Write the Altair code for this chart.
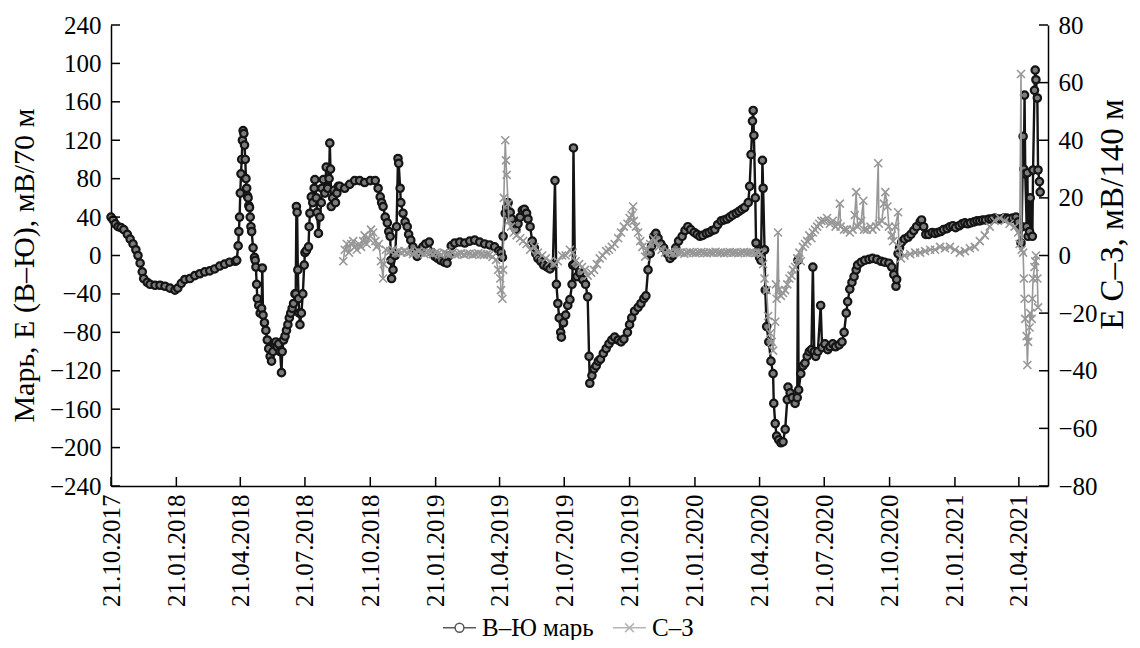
import altair as alt
import pandas as pd

START = "2017-10-21"
tick_labels = ["21.10.2017", "21.01.2018", "21.04.2018", "21.07.2018", "21.10.2018",
               "21.01.2019", "21.04.2019", "21.07.2019", "21.10.2019", "21.01.2020",
               "21.04.2020", "21.07.2020", "21.10.2020", "21.01.2021", "21.04.2021"]
left_ticks = [-240, -200, -160, -120, -80, -40, 0, 40, 80, 120, 160, 200, 240]
right_ticks = [-80, -60, -40, -20, 0, 20, 40, 60, 80]
series_names = ["В–Ю марь", "С–З"]

# В–Ю марь (left axis): days since 21.10.2017 and values, mV/70 m
ew_day = [0, 3, 6, 10, 14, 18, 23, 27, 31, 35, 38, 41, 44, 46, 51, 55, 62, 69, 76, 83,
          90, 94, 99, 104, 111, 118, 125, 132, 139, 146, 153, 160, 167, 175, 177,
          179, 180, 181, 182, 183, 184, 185, 186, 187, 188, 189, 190, 191, 192, 193, 194, 195,
          196, 197, 198, 200, 202, 203, 204, 205, 206, 208, 210, 212, 213, 214, 216, 218, 220,
          222, 224, 226, 228, 230, 232, 234, 236, 238, 240, 241, 243, 245, 247, 249, 251, 253,
          255, 257, 259, 260, 261, 262, 263, 264, 265, 266, 268, 270, 272, 273, 275, 278, 279,
          280, 282, 284, 286, 287, 289, 290, 292, 294, 296, 297, 299, 301, 303, 305, 307, 308,
          309, 310, 312, 314, 316, 318, 320, 322, 329, 336, 343, 350, 357, 365, 372, 376, 379,
          381, 383, 386, 389, 391, 393, 394, 395, 397, 400, 402, 404, 405, 407, 408, 411, 414,
          417, 419, 422, 425, 428, 431, 435, 439, 443, 448, 452, 456, 460, 464, 469, 473, 476,
          479, 484, 491, 498, 505, 512, 519, 526, 533, 540, 546, 549, 551, 552, 555, 557, 559,
          562, 564, 568, 570, 573, 576, 579, 582, 585, 587, 590, 593, 596, 598, 601, 605, 609,
          614, 618, 622, 625, 627, 629, 631, 633, 634, 637, 640, 643, 646, 649, 650, 651, 653,
          656, 660, 664, 668, 671, 673, 674, 677, 680, 683, 686, 689, 693, 697, 701, 705, 709,
          714, 718, 722, 727, 730, 733, 737, 742, 746, 750, 753, 756, 759, 761, 764, 767, 770,
          774, 778, 783, 787, 791, 795, 799, 804, 808, 812, 816, 821, 825, 829, 833, 838, 842,
          846, 850, 854, 859, 863, 867, 871, 875, 880, 884, 888, 892, 897, 899, 901, 903, 904,
          905, 907, 908, 911, 913, 915, 917, 918, 920, 921, 923, 926, 929, 932, 933, 935, 937,
          940, 943, 946, 949, 952, 953, 956, 959, 963, 966, 967, 968, 971, 974, 977, 980, 983,
          986, 988, 990, 992, 995, 999, 1001, 1005, 1009, 1012, 1016, 1020, 1025, 1029, 1032,
          1035, 1037, 1040, 1043, 1046, 1049, 1051, 1056, 1061, 1067, 1072, 1078, 1084, 1089,
          1095, 1099, 1102, 1105, 1106, 1108, 1110, 1113, 1117, 1122, 1126, 1130, 1134, 1139,
          1141, 1144, 1147, 1151, 1156, 1160, 1164, 1168, 1172, 1177, 1181, 1185, 1189, 1194,
          1198, 1202, 1206, 1210, 1215, 1219, 1223, 1227, 1231, 1236, 1240, 1244, 1248, 1253,
          1257, 1261, 1265, 1269, 1274, 1277, 1279, 1281, 1282, 1284, 1285, 1286, 1287, 1289,
          1290, 1291, 1293, 1294, 1297, 1298, 1300, 1301, 1302, 1304, 1305, 1307, 1308]
ew_val = [40, 37, 33, 30, 29, 27, 22, 17, 12, 6, 0, -8, -17, -24, -28, -30, -31, -31, -32, -34,
          -36, -34, -29, -25, -24, -21, -19, -17, -16, -14, -11, -9, -7, -6, -5,
          10, 25, 40, 65, 85, 100, 120, 130, 127, 115, 100, 80, 70, 62, 60, 52, 50,
          40, 30, 25, 8, -2, -5, -12, -30, -45, -52, -60, -55, -13, -62, -70, -78, -88,
          -97, -105, -110, -100, -92, -90, -95, -92, -100, -122, -100, -88, -84, -78, -72, -65, -60,
          -55, -50, -40, -40, 51, 45, -15, -45, -60, -72, -60, -40, -10, 3, 5, 9, 30,
          44, 61, 55, 70, 79, 60, 45, 23, 40, 55, 70, 79, 65, 92, 70, 80, 117,
          90, 51, 60, 68, 55, 65, 72, 72, 70, 74, 78, 78, 76, 78, 78, 70, 61,
          55, 51, 40, 34, 25, 20, -5, -24, -15, 0, 30, 101, 96, 70, 55, 44, 35,
          30, 22, 16, 9, 3, -1, 5, 9, 12, 14, 3, -1, -3, -5, -7, -8, 0,
          10, 13, 14, 13, 15, 16, 14, 12, 11, 9, 5, 3, -2, 20, 44, 50, 55,
          45, 38, 30, 27, 33, 40, 47, 48, 44, 38, 30, 15, 8, 2, -3, -6, -10,
          -12, -14, -10, 78, -30, -50, -65, -80, -85, -70, -62, -52, -46, -30, -10, 112, -10,
          -22, -18, -25, -30, -43, -105, -133, -125, -118, -115, -110, -108, -102, -97, -92, -88, -85,
          -88, -90, -87, -80, -72, -65, -58, -54, -50, -45, -42, -15, 2, 10, 20, 23, 18,
          12, 8, 2, -3, 0, 8, 15, 20, 26, 30, 27, 24, 22, 20, 21, 23, 24,
          26, 27, 32, 36, 37, 38, 40, 42, 44, 46, 48, 50, 55, 72, 105, 140, 151,
          125, 60, 13, 5, -2, -5, 99, 70, 6, -36, -74, -90, -110, -123, -154, -175, -188,
          -192, -195, -194, -181, -150, -137, -143, -148, -154, -148, -5, -140, -123, -115, -112, -105, -100,
          -98, -12, -100, -105, -100, -52, -96, -92, -98, -95, -92, -95, -93, -90, -80,
          -60, -48, -35, -28, -22, -15, -10, -7, -5, -4, -3, -4, -6, -7,
          -8, -12, -20, -32, -25, 2, 8, 14, 17, 19, 22, 26, 30, 35,
          37, 30, 22, 22, 24, 23, 24, 25, 27, 28, 30, 31, 29, 31,
          33, 34, 33, 34, 35, 36, 36, 37, 37, 38, 38, 39, 38, 38,
          39, 39, 38, 39, 40, 35, 28, 13, 30, 124, 90, 167, 85, 30,
          86, 20, 25, 60, 20, 89, 172, 193, 183, 164, 89, 77, 66]

# С–З (right axis): days since 21.10.2017 and values, mV/140 m
nw_day = [327, 329, 332, 335, 338, 341, 343, 346, 349, 352, 355, 357, 360, 363, 366, 369, 372,
          374, 377, 380, 383, 384, 387, 393, 397, 401, 405, 409, 413, 417, 421, 425, 429, 433,
          437, 441, 445, 449, 453, 457, 461, 465, 469, 473, 477, 481, 485, 489, 493, 497, 501,
          505, 509, 513, 517, 521, 525, 529, 533, 537, 542, 545, 548, 549, 551, 552, 553, 555,
          556, 557, 559, 560, 563, 567, 571, 576, 580, 585, 590, 596, 601, 607, 612, 618, 624,
          629, 635, 640, 646, 650, 654, 659, 663, 667, 671, 676, 680, 684, 688, 692, 697, 701,
          705, 709, 714, 718, 722, 727, 730, 733, 735, 736, 739, 742, 745, 748, 752, 755, 759,
          763, 767, 771, 775, 780, 787, 791, 795, 799, 803, 807, 811, 815, 819, 823, 827, 831,
          835, 839, 843, 847, 851, 855, 859, 863, 867, 871, 875, 879, 883, 887, 891, 895, 899,
          903, 907, 911, 915, 918, 920, 923, 925, 928, 930, 932, 935, 936, 937, 939, 940, 943,
          946, 949, 952, 955, 958, 960, 963, 966, 969, 971, 974, 977, 980, 983, 986, 988, 991,
          994, 997, 1000, 1004, 1008, 1012, 1016, 1020, 1023, 1026, 1027, 1032, 1036, 1040, 1044,
          1047, 1049, 1051, 1056, 1059, 1060, 1064, 1069, 1072, 1077, 1080, 1081, 1085, 1088, 1090,
          1093, 1095, 1099, 1101, 1104, 1108, 1109, 1112, 1117, 1125, 1132, 1139, 1146, 1153, 1160,
          1167, 1174, 1181, 1188, 1195, 1202, 1209, 1216, 1223, 1230, 1237, 1244, 1251, 1258, 1265,
          1272, 1277, 1279, 1281, 1282, 1284, 1285, 1286, 1287, 1289, 1290, 1291, 1293, 1294, 1296,
          1297, 1298, 1300, 1301, 1302, 1304, 1305]
nw_val = [-2, 2, 4, 1, 4, 5, 3, 2, 4, 3, 5, 7, 4, 6, 9, 8, 5,
          3, 4, -2, -8, -3, 2, 1.5, 2, 1, 1.5, 1, 1.5, 1, 1.2, 0.5, 1, 1.5,
          1, 0.5, 1, 1, 0.5, 1, 0.8, 0.3, 1, 0.5, 0.5, 1, 0.3, 0.5, 0.8, 0.3, 0.6,
          0.6, 0.2, 0.5, 0.8, 0.5, 0.2, 0.4, 0.3, -0.5, -1.5, -5, -8, -12, -15, -5, 20, 40,
          33, 28, 18, 12, 10, 8, 7, 6, 5, 4, 2, 3, 1, 0, -1, -2, -3,
          -2, 0, 0, 2, 1, -2, -3, -4, -5, -7, -6, -5, -3, -1, 0, 1.5, 2,
          3, 4, 6, 8, 10, 11, 13, 14, 17, 12, 10, 8, 5, 3, -0.4, 2, 4,
          6, 5, 3, 2, 1, 1, 0.8, 1.2, 1, 1, 0.6, 1, 1.2, 1, 0.8, 1, 1.2,
          1, 0.8, 1, 1, 1.3, 1, 1, 0.8, 1, 1.2, 1, 1, 0.8, 1, 1.2, 1, 1,
          1, 0.8, 1, 0.5, -3, -8, -12, -21, -27, -30, -33, -23, -10, -15, 8, -12, -14,
          -13, -12, -10, -8, -7, -5, -4, -1, 1, -2, 3, 4, 5, 7, 6, 8, 9,
          10, 11, 12, 12, 13, 11, 12, 10, 11, 18, 10, 9, 9, 8, 9,
          14, 22, 10, 12, 19, 9, 9, 10, 9, 10, 32, 11, 12, 18, 22,
          17, 10, 7, 5, 10, 15, 3, -1, 0, 0.5, 1, 1, 1.5, 2, 2,
          3, 2.5, 3, 2, 1, 1.5, 2.5, 3, 5, 7, 10, 12, 13, 12, 11,
          10, 8, 4, 63, 2, 1, -8, -15, -22, -28, -38, -30, -25, -20, -22,
          -15, -8, -4, -2, 0, -8, -18]

FONT = "Liberation Serif"
W, H = 937, 461
BLACK = "#141414"
GRAY = "#979797"

start = pd.Timestamp(START)


def to_dates(days):
    return [(start + pd.Timedelta(days=d)).strftime("%Y-%m-%d") for d in days]


ew = pd.DataFrame({"date": to_dates(ew_day), "v": ew_val})
nw = pd.DataFrame({"date": to_dates(nw_day), "v": nw_val})
tick_dates = [pd.to_datetime(t, format="%d.%m.%Y") for t in tick_labels]
xt = pd.DataFrame({"date": [d.strftime("%Y-%m-%d") for d in tick_dates]})
lt = pd.DataFrame({"v": left_ticks})
rt = pd.DataFrame({"v": right_ticks})
leg = pd.DataFrame({"s": series_names})

xscale = alt.Scale(type="utc", domain=[alt.DateTime(year=2017, month=10, date=21, utc=True),
                                       alt.DateTime(year=2021, month=6, date=1, utc=True)])
xaxis = alt.Axis(values=[alt.DateTime(year=d.year, month=d.month, date=d.day, utc=True) for d in tick_dates],
                 format="%d.%m.%Y", labelAngle=270, labelPadding=8, tickSize=0,
                 labelFlush=False, labelOverlap=False, grid=False, title=None,
                 labelFont=FONT, labelFontSize=25, labelColor="black",
                 domainColor="black", domainWidth=1.5)

left_axis = alt.Axis(values=left_ticks, orient="left", tickSize=0, labelPadding=10, grid=False,
                     labelExpr="datum.value == 200 ? '100' : datum.label",
                     labelFont=FONT, labelFontSize=25, labelColor="black",
                     domainColor="black", domainWidth=1.5,
                     title="Марь, E (В–Ю), мВ/70 м", titleFont=FONT, titleFontSize=30,
                     titleFontWeight="normal", titleColor="black", titleAngle=270,
                     titleBaseline="alphabetic", titleX=-78, titleY=240)
right_axis = alt.Axis(values=right_ticks, orient="right", tickSize=0, labelPadding=10, grid=False,
                      labelFont=FONT, labelFontSize=25, labelColor="black",
                      domainColor="black", domainWidth=1.5,
                      title="E С–З, мВ/140 м", titleFont=FONT, titleFontSize=33,
                      titleFontWeight="normal", titleColor="black", titleAngle=270,
                      titleBaseline="alphabetic", titleX=74, titleY=189)

lscale = alt.Scale(domain=[-240, 240], nice=False, zero=False)
rscale = alt.Scale(domain=[-80, 80], nice=False, zero=False)

X = alt.X("date:T", scale=xscale, axis=xaxis)
YL = alt.Y("v:Q", scale=lscale, axis=left_axis)
YR = alt.Y("v:Q", scale=rscale, axis=right_axis)

ew_line = alt.Chart(ew).mark_line(color=BLACK, strokeWidth=2.4).encode(x=X, y=YL)
ew_pts = alt.Chart(ew).mark_point(shape="circle", size=55, filled=True, fill="#7c7c7c",
                                  stroke=BLACK, strokeWidth=2.2, opacity=1).encode(x=X, y=YL)
lt_rules = alt.Chart(lt).mark_rule(color="black", strokeWidth=1.5).encode(
    y=YL, x=alt.value(0), x2=alt.value(9))
xt_rules = alt.Chart(xt).mark_rule(color="black", strokeWidth=1.5).encode(
    x=X, y=alt.value(H), y2=alt.value(H - 9))

left = alt.layer(ew_line, ew_pts, lt_rules, xt_rules)

XPATH = "M-1,-1L1,1M-1,1L1,-1"
nw_line = alt.Chart(nw).mark_line(color=GRAY, strokeWidth=1.6).encode(x=X, y=YR)
nw_pts = alt.Chart(nw).mark_point(shape=XPATH, size=64, filled=False, color=GRAY,
                                  strokeWidth=1.6, opacity=1).encode(x=X, y=YR)
rt_rules = alt.Chart(rt).mark_rule(color="black", strokeWidth=1.5).encode(
    y=YR, x=alt.value(W - 9), x2=alt.value(W))

LEG_CIRCLE = "M-1.5,0L-0.4,0M0.4,0L1.5,0M0.4,0A0.4,0.4,0,1,1,-0.4,0A0.4,0.4,0,1,1,0.4,0"
LEG_X = "M-1.5,0L1.5,0M-0.4,-0.4L0.4,0.4M-0.4,0.4L0.4,-0.4"
legend = alt.Legend(orient="none", legendX=336, legendY=590, direction="horizontal", title=None,
                    labelFont=FONT, labelFontSize=25, labelColor="black", labelOffset=10,
                    symbolSize=484, symbolStrokeWidth=1.5, columnPadding=16)
leg_pts = alt.Chart(leg).mark_point(filled=False, size=484, strokeWidth=1.5).encode(
    x=alt.value(-3000), y=alt.value(-3000),
    color=alt.Color("s:N", scale=alt.Scale(domain=series_names, range=[BLACK, GRAY]), legend=legend),
    shape=alt.Shape("s:N", scale=alt.Scale(domain=series_names, range=[LEG_CIRCLE, LEG_X]), legend=legend))

right = alt.layer(nw_line, nw_pts, rt_rules, leg_pts)

chart = alt.layer(left, right).resolve_scale(y="independent").properties(
    width=W, height=H,
    padding={"left": 103, "top": 17, "right": 84, "bottom": 154},
    autosize=alt.AutoSizeParams(type="none"),
).configure(font=FONT, view=alt.ViewConfig(stroke=None))

chart.save("out.html", embed_options={"renderer": "svg", "actions": False})
